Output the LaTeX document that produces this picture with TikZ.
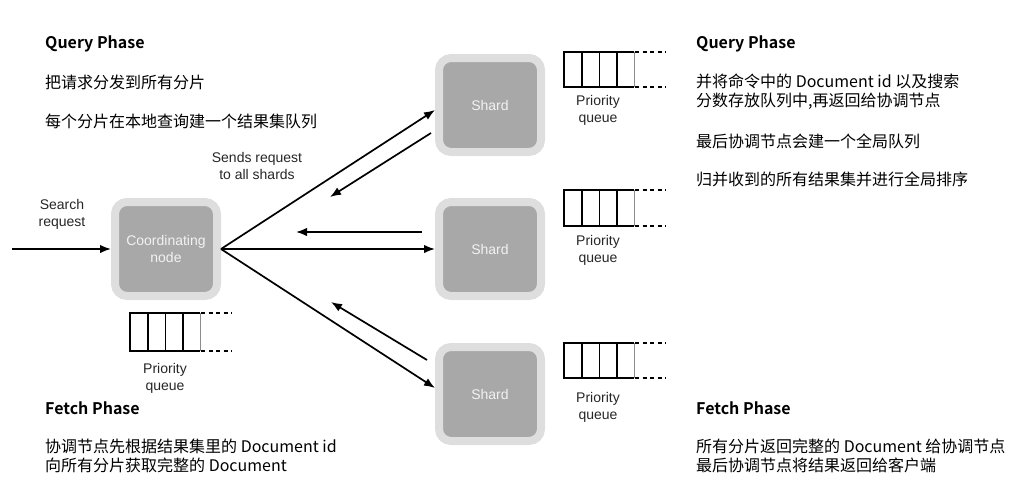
\documentclass[tikz,border=0pt]{standalone}
\usepackage{fontspec}
\setmainfont{Liberation Sans}
\newfontfamily\cjk{Noto Sans CJK SC}
\newfontfamily\cjkb{Noto Sans CJK SC Bold}
\usetikzlibrary{arrows.meta,shadows}
\definecolor{outergray}{HTML}{DEDEDE}
\definecolor{innergray}{HTML}{A8A8A8}
\definecolor{labelwhite}{HTML}{F2F2F2}
\tikzset{
  server/.style={fill=innergray, draw=outergray, line width=8pt, rounded corners=12pt,
    minimum width=102pt, minimum height=94pt, align=center, text=labelwhite,
    font=\fontsize{14}{16.5}\selectfont,
    drop shadow={opacity=0.12, shadow xshift=0pt, shadow yshift=-2pt}},
  lbl/.style={align=center, font=\fontsize{14}{17}\selectfont, text=black!85, inner sep=0pt},
  phase/.style={anchor=west, font=\cjkb\fontsize{16}{18}\selectfont, inner sep=0pt},
  desc/.style={anchor=west, align=left, font=\cjk\fontsize{16}{19.5}\selectfont, inner sep=0pt},
  conn/.style={line width=1.7pt, -{Latex[length=11pt,width=8.5pt]}},
  qline/.style={line width=1.8pt},
  qdash/.style={line width=1.5pt, dash pattern=on 4pt off 3.5pt},
  pics/queue/.style={code={
    \draw[qline] (70,0) -- (0,0) -- (0,#1) -- (70,#1);
    \draw[qline] (18,0) -- (18,#1) (35.5,0) -- (35.5,#1) (53,0) -- (53,#1);
    \draw[line width=0.6pt, black!45] (70,0) -- (70,#1);
    \draw[qdash] (71,0) -- (102,0) (71,#1) -- (102,#1);
  }}
}
\begin{document}
\begin{tikzpicture}[x=1pt,y=-1pt]
\useasboundingbox (0,0) rectangle (1023,490);

% servers
\node[server] (coord) at (166,249) {Coordinating\\node};
\node[server] (s1) at (490,105) {Shard};
\node[server] (s2) at (490,249) {Shard};
\node[server] (s3) at (490,394) {Shard};

% queues
\pic at (130,313) {queue=38};
\pic at (564,52) {queue=35};
\pic at (564,190) {queue=36};
\pic at (564,343) {queue=35};

\node[lbl] (pq0) at (165,378) {Priority\\queue};
\node[lbl] (pq1) at (598,110) {Priority\\queue};
\node[lbl] (pq2) at (598,250) {Priority\\queue};
\node[lbl] (pq3) at (598,407) {Priority\\queue};

% search request
\coordinate (in) at (12,249);
\node[lbl] (sr) at (62,214) {Search\\request};
\draw[conn] (in) -- (coord.west);

% sends request
\node[lbl] (sends) at (257,166) {Sends request\\to all shards};
\draw[conn] (coord.east) -- ([yshift=-5pt]s1.west);
\draw[conn] (coord.east) -- (s2.west);
\draw[conn] (coord.east) -- ([yshift=6pt]s3.west);

% returns
\coordinate (r1s) at (431,133);
\coordinate (r1e) at (330,197);
\coordinate (r2s) at (422,232);
\coordinate (r2e) at (296,232);
\coordinate (r3s) at (427,360);
\coordinate (r3e) at (331,302);
\draw[conn] (r1s) -- (r1e);
\draw[conn] (r2s) -- (r2e);
\draw[conn] (r3s) -- (r3e);

% left text
\node[phase] (lq) at (45,44) {Query Phase};
\node[desc] (lq1) at (45,82) {把请求分发到所有分片};
\node[desc] (lq2) at (45,121) {每个分片在本地查询建一个结果集队列};
\node[phase] (lf) at (45,408) {Fetch Phase};
\node[desc] (lf1) at (45,456) {协调节点先根据结果集里的 Document id\\向所有分片获取完整的 Document};

% right text
\node[phase] (rq) at (696,44) {Query Phase};
\node[desc] (rq1) at (696,91.5) {并将命令中的 Document id 以及搜索\\分数存放队列中,再返回给协调节点};
\node[desc] (rq2) at (696,141) {最后协调节点会建一个全局队列};
\node[desc] (rq3) at (696,179) {归并收到的所有结果集并进行全局排序};
\node[phase] (rf) at (696,408) {Fetch Phase};
\node[desc] (rf1) at (696,456) {所有分片返回完整的 Document 给协调节点\\最后协调节点将结果返回给客户端};
\end{tikzpicture}
\end{document}
